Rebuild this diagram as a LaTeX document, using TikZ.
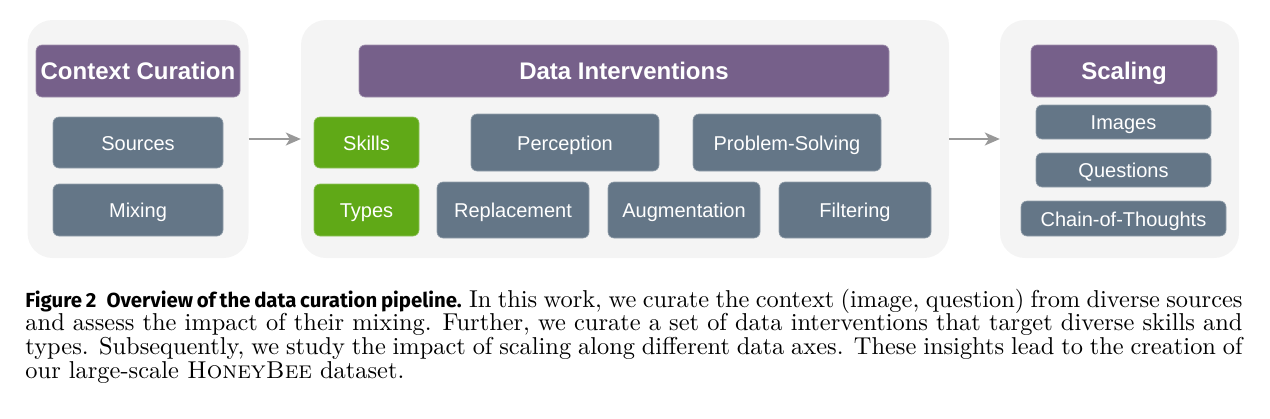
\documentclass[tikz,border=0pt]{standalone}
\usepackage{fontspec}
\newfontfamily\boxfont{Liberation Sans}
\newfontfamily\capfont{Fira Sans}
\usetikzlibrary{arrows.meta}
\definecolor{panelgray}{HTML}{F4F4F4}
\definecolor{hdrpurple}{HTML}{76608A}
\definecolor{slateblue}{HTML}{647687}
\definecolor{leafgreen}{HTML}{60A917}
\definecolor{arrgray}{HTML}{999999}
\tikzset{
  panel/.style={fill=panelgray, draw=none, rounded corners=25pt, minimum height=238pt, inner sep=0pt},
  hdr/.style={fill=hdrpurple, draw=hdrpurple!70!white, line width=0.6pt, rounded corners=6pt, text=white,
     font=\boxfont\fontsize{24}{28}\selectfont\bfseries, minimum height=52pt, inner sep=0pt,
     text height=17.5pt, text depth=0pt},
  item/.style={fill=slateblue, draw=slateblue!70!white, line width=0.6pt, rounded corners=6pt, text=white,
     font=\boxfont\fontsize{20}{24}\selectfont, inner sep=0pt, text height=15pt, text depth=0pt},
  greenitem/.style={item, fill=leafgreen, draw=leafgreen!70!white},
  arr/.style={draw=arrgray, line width=1.8pt, -{Stealth[length=15pt,width=13pt,inset=4pt]}},
}
\begin{document}
\begin{tikzpicture}[x=1pt,y=-1pt]
\useasboundingbox (0,0) rectangle (1270,418);
% panels
\node[panel, minimum width=221pt] (p1) at (138,139) {};
\node[panel, minimum width=648pt] (p2) at (625,139) {};
\node[panel, minimum width=239pt] (p3) at (1119.5,139) {};
% panel 1
\node[hdr, minimum width=204pt] (cc) at (138,71) {Context Curation};
\node[item, minimum width=170pt, minimum height=51pt] (src) at (138,142.5) {Sources};
\node[item, minimum width=170pt, minimum height=52pt] (mix) at (138,210) {Mixing};
% panel 2
\node[hdr, minimum width=530pt] (di) at (624,71) {Data Interventions};
\node[greenitem, minimum width=105pt, minimum height=51pt] (skills) at (366.5,142.5) {Skills};
\node[greenitem, minimum width=105pt, minimum height=52pt] (types) at (366.5,210) {Types};
\node[item, minimum width=188pt, minimum height=57pt] (perc) at (565,142.5) {Perception};
\node[item, minimum width=188pt, minimum height=57pt] (prob) at (787,142.5) {Problem-Solving};
\node[item, minimum width=152pt, minimum height=56pt] (repl) at (513,210) {Replacement};
\node[item, minimum width=152pt, minimum height=56pt] (aug) at (684,210) {Augmentation};
\node[item, minimum width=152pt, minimum height=56pt] (filt) at (855,210) {Filtering};
% panel 3
\node[hdr, minimum width=186pt] (sc) at (1124,71) {Scaling};
\node[item, minimum width=175pt, minimum height=34pt] (img) at (1123.5,122) {Images};
\node[item, minimum width=175pt, minimum height=34pt] (que) at (1123.5,170) {Questions};
\node[item, minimum width=205pt, minimum height=35pt] (cot) at (1123.5,218.5) {Chain-of-Thoughts};
% arrows
\draw[arr] (p1.east) -- (p2.west);
\draw[arr] (p2.east) -- (p3.west);
% caption
\node[anchor=north west, inner sep=0pt, scale=2.44, text width=498.8pt, align=justify,
      font=\fontsize{10}{9.7}\selectfont] (cap) at (25,288.4)
{{\capfont\bfseries\fontsize{8.35}{9.7}\selectfont Figure 2\hspace{0.5em}Overview of the data curation pipeline.}\hspace{0.3em}In this work, we curate the context (image, question) from diverse sources\linebreak
and assess the impact of their mixing. Further, we curate a set of data interventions that target diverse skills and\linebreak
types. Subsequently, we study the impact of scaling along different data axes. These insights lead to the creation of\linebreak
our large-scale \textsc{HoneyBee} dataset.};
\end{tikzpicture}
\end{document}
